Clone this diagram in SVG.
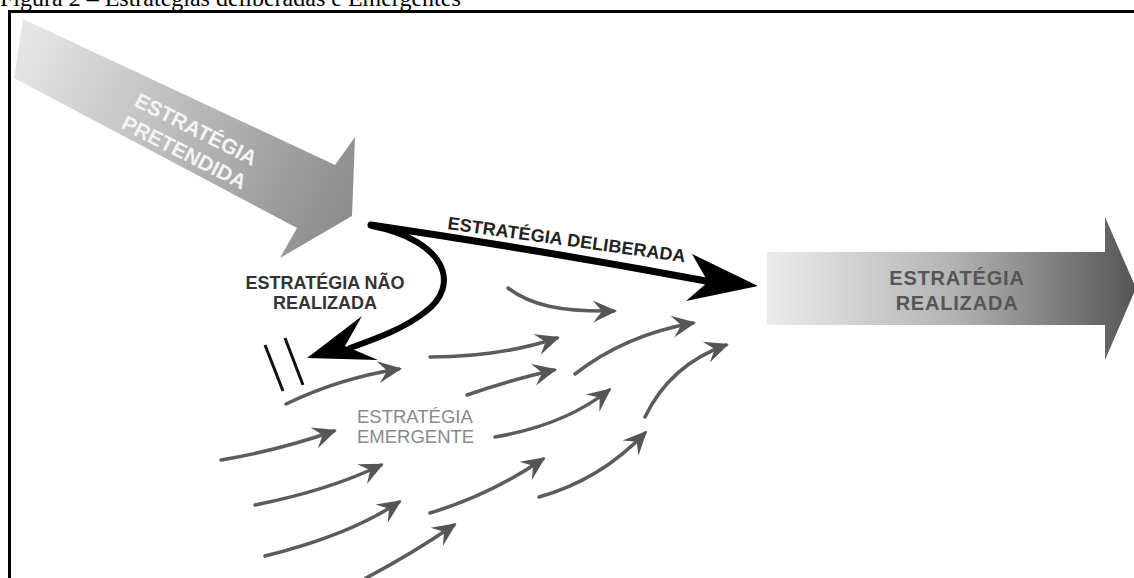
<svg xmlns="http://www.w3.org/2000/svg" width="1134" height="578" viewBox="0 0 1134 578">
<style>
.cap{font-family:"Liberation Serif","Times New Roman",serif;font-size:24px;fill:#000}
.lbl{font-family:"Liberation Sans",Arial,sans-serif;font-weight:bold}
.em{font-family:"Liberation Sans",Arial,sans-serif;font-size:18.5px;fill:#8a8a8a}
.g{fill:none;stroke:#5c5c5c;stroke-width:3.5;stroke-linecap:round}
.blk{fill:none;stroke:#000;stroke-linecap:round}
</style>
<defs>
<linearGradient id="gp" gradientUnits="userSpaceOnUse" x1="20" y1="45" x2="345" y2="200">
<stop offset="0" stop-color="#e6e6e6"/><stop offset="1" stop-color="#8e8e8e"/>
</linearGradient>
<linearGradient id="gr" gradientUnits="userSpaceOnUse" x1="767" y1="0" x2="1136" y2="0">
<stop offset="0" stop-color="#ececec"/><stop offset="0.5" stop-color="#b4b4b4"/><stop offset="1" stop-color="#555"/>
</linearGradient>
<marker id="ah" markerUnits="userSpaceOnUse" viewBox="-26 -13 30 26" markerWidth="30" markerHeight="26" refX="-3" refY="0" orient="auto">
<path d="M0,0 L-24,-11 L-15,0 L-24,11 Z" fill="#555"/>
</marker>
</defs>
<rect width="1134" height="578" fill="#fff"/>
<g id="caption"><text class="cap" x="0" y="6">Figura 2 – Estratégias deliberadas e Emergentes</text></g>
<path id="frame" d="M9.5,578 V11.5 H1134" fill="none" stroke="#000" stroke-width="3"/>

<g id="pretendida">
<polygon points="23,19 335,165 355,137 352,216 280,258 297,228 14,78" fill="url(#gp)"/>
<g transform="translate(190,141) rotate(27)" class="lbl" font-size="21" fill="#f4f4f4" text-anchor="middle">
<text x="0" y="-6">ESTRATÉGIA</text>
<text x="0" y="20">PRETENDIDA</text>
</g>
</g>

<g id="realizada">
<polygon points="767,252 1105,252 1105,217 1136,288 1105,360 1105,325 767,325" fill="url(#gr)"/>
<g class="lbl" font-size="20" fill="#555" text-anchor="middle" letter-spacing="0.8">
<text x="957" y="285">ESTRATÉGIA</text>
<text x="957" y="310">REALIZADA</text>
</g>
</g>

<g id="deliberada">
<path class="blk" d="M371,225 Q540,250 706,281" stroke-width="7"/>
<polygon points="758,286 692,254 708,282 686,301" fill="#000"/>
<text class="lbl" font-size="18" fill="#222" transform="translate(447,229) rotate(8)" textLength="240" lengthAdjust="spacing">ESTRATÉGIA DELIBERADA</text>
</g>

<g id="nao-realizada">
<path class="blk" d="M372,226 C445,240 462,285 425,312 C405,328 378,338 350,348" stroke-width="6"/>
<polygon points="307,358 362,316 345,346 378,360" fill="#000"/>
<line x1="265" y1="345" x2="283" y2="391" stroke="#111" stroke-width="3"/>
<line x1="285" y1="338" x2="303" y2="385" stroke="#111" stroke-width="3"/>
<g class="lbl" font-size="18" fill="#333" text-anchor="middle">
<text x="325" y="289">ESTRATÉGIA NÃO</text>
<text x="325" y="309">REALIZADA</text>
</g>
</g>

<g id="emergente">
<text class="em" x="357" y="423">ESTRATÉGIA</text>
<text class="em" x="357" y="443">EMERGENTE</text>
</g>

<g id="connectors">
<path class="g" d="M508,288 C530,305 560,312 614,311" marker-end="url(#ah)"/>
<path class="g" d="M430,357 Q500,357 557,338" marker-end="url(#ah)"/>
<path class="g" d="M467,395 Q510,380 554,370" marker-end="url(#ah)"/>
<path class="g" d="M575,374 Q625,335 693,323" marker-end="url(#ah)"/>
<path class="g" d="M495,437 Q565,425 609,390" marker-end="url(#ah)"/>
<path class="g" d="M645,417 Q670,365 726,345" marker-end="url(#ah)"/>
<path class="g" d="M286,404 Q340,378 399,369" marker-end="url(#ah)"/>
<path class="g" d="M221,460 Q280,450 334,431" marker-end="url(#ah)"/>
<path class="g" d="M255,505 Q330,490 381,465" marker-end="url(#ah)"/>
<path class="g" d="M265,556 Q350,535 399,502" marker-end="url(#ah)"/>
<path class="g" d="M366,578 Q410,555 454,525" marker-end="url(#ah)"/>
<path class="g" d="M430,513 Q490,495 543,459" marker-end="url(#ah)"/>
<path class="g" d="M539,497 Q600,480 645,433" marker-end="url(#ah)"/>
</g>
</svg>
